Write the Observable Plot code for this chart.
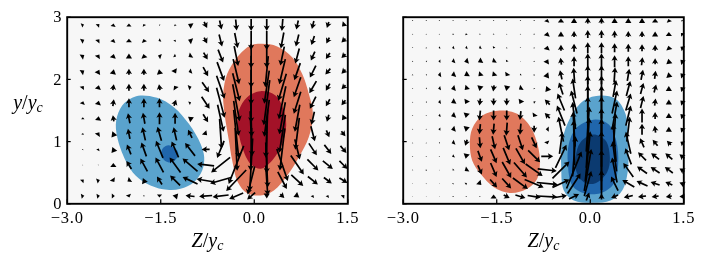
<!DOCTYPE html>
<html><head><meta charset="utf-8">
<style>
html,body{margin:0;padding:0;background:#fff}
#c{position:relative;width:706px;height:265px;overflow:hidden}
#c svg{position:absolute;top:0;max-width:none;filter:blur(.4px)}
#c svg, #c svg text, #c svg g{font-family:"Liberation Serif",serif !important}
</style>
<script src="https://cdn.jsdelivr.net/npm/d3@7"></script>
<script src="https://cdn.jsdelivr.net/npm/@observablehq/plot@0.6"></script>
</head><body><div id="c"></div>
<script>
const leftZ=[-2.75,-2.50,-2.26,-2.01,-1.77,-1.52,-1.27,-1.03,-0.78,-0.54,-0.29,-0.05,0.20,0.45,0.69,0.94,1.18,1.43];
const leftY=[2.875,2.625,2.375,2.125,1.875,1.625,1.375,1.125,0.875,0.625,0.375,0.125];
const leftUV=[
[2.5,1,2,2,.5,3,0,3,-1,2,-1,.5,-.5,1.5,-4,2,3,-6,2,-9,1,-11,0,-12,0,-12,-1,-12,-2,-9,-2,-8,-2,-6,-3,-3],
[3,1.5,2,2.5,1,3,0,3.5,-1,3,-2,-1,1,1.5,-4,1.5,3,-6,3,-12,3,-15,0,-19,0,-19,-3,-16,-3,-12,-3,-9,-3,-6,-4,-4],
[3,2,2,3,1,4,0,5,-1,4,-3,1,2,-1,-3,-2,4,-7,5,-13,4,-20,0,-24,0,-24,-4,-19,-4,-15,-4,-9,-4,-6,-4,-4],
[3,2,2,4,1,5,0,6,0,6,-1,5,2,-4,-3,-1,5,-9,7,-19,6,-25,0,-32,-3,-31,-6,-25,-6,-17,-6,-12,-5,-6,-4,-4],
[2,2.5,1,4,1,6,0,7,0,7,-1,6,-2,3,3,1,7,-10,8,-23,7,-28,0,-35,-5,-33,-8,-27,-7,-20,-7,-12,-4,-7,-4,-4],
[1,3,1,4,1,7,0,9,0,9,0,9,2,6,2,1,8,-12,8,-30,7,-37,0,-40,-6,-45,-7,-33,-7,-22,-6,-12,-4,-7,-4,-5],
[0,2,.5,4,-1,6,-2,10,-2,11,0,12,0,11,-4,3,5,-8,6,-27,5,-35,1,-37,-5,-37,-6,-32,-5,-27,-3,-13,-2,-7,-3,-4],
[.5,1.5,2,3,-2,5,-2,10,-3,13,-4,14,-3,13,-4,8,3,-3,2,-30,5,-48,2,-45,-2,-48,-6,-38,-4,-32,4,-15,3,-7,4,-5],
[.3,1,1,2,-2,5,-4,10,-5,14,-7,17,-7,16,-10,13,-8,0,-7,-17,2,-43,-1,-43,0,-48,-5,-42,5,-20,8,-12,7,-9,6,-7],
[.3,.5,.5,.5,0,4,-5,8,-7,13,-8,15,-11,15,-15,13,-17,2,-19,-15,-15,-38,-3,-53,2,-45,11,-32,13,-19,11,-11,10,-8,8,-8],
[2,2,3,1,2,-3,-3,-2,-2,5,-5,8,-10,10,-15,7,-18,3,-21,-6,-20,-21,-7,-28,2,-30,9,-17,12,-11,10,-8,8,-6,8,-5],
[3,.5,3,.5,3,0,1,-3,-.5,-1,0,-3,-5,1,-9,1,-13,-1,-16,-2,-14,-6,-8,-7,0,-5,4,-4,4,-3,1,2,1,2,2,2]
];
const rightZ=[-2.85,-2.63,-2.42,-2.20,-1.99,-1.77,-1.55,-1.34,-1.12,-0.90,-0.69,-0.47,-0.26,-0.04,0.18,0.39,0.61,0.83,1.04,1.26,1.47];
const rightY=[2.947,2.729,2.510,2.292,2.073,1.855,1.636,1.418,1.200,0.981,0.763,0.544,0.326,0.117];
const rightUV=[
[0,.8,0,.8,0,.8,0,.8,0,.8,0,.8,0,.8,0,.8,0,.8,0,1,1,3,0,4,0,5,0,6,0,6,0,5,0,5,0,5,0,4,-1,3,-1,1],
[0,.8,0,.8,0,.8,-.5,1,-.5,1.5,0,1,0,1,0,.8,0,.8,0,1,1,4,0,5,0,6,0,8,0,8,0,7,0,6,0,6,0,5,0,4,-2,2],
[0,.8,0,1,-1.5,-.5,-2,-.5,-2,-.5,-2,-1,-1,-1.5,0,1,0,.8,0,1,1,4,0,6,0,8,0,11,0,11,0,9,0,8,0,7,0,6,-1,4,-3,2],
[0,.8,-1,.5,-2,0,-3,-1,-4,-1,-4,-2,-3,-2,-1,-1.5,0,.6,0,1,2,4,-1,7,0,10,0,16,0,16,0,12,0,10,1,8,0,6,-1,5,-3,3],
[0,1,-1,0,-3,-.5,-4,-1.5,-4,-2.5,-3,-3,-3,-3,-2,-3,-1,-1,.5,1,2,5,-2,9,-1,14,0,19,0,19,1,15,2,12,2,10,1,8,-1,5,-3,3],
[0,.8,-1,0,-2.5,-.5,-4,-1,-3,-3,-1,-5,-1,-6,-1,-5,-3,-2,-.5,1,-2,5,-4,12,-3,20,0,26,0,26,3,17,4,15,3,11,2,8,0,5,-3,3],
[0,.8,-1,0,-2.5,-.5,-4,-2,-2,-4,-1,-7,0,-7,0,-7,-2,-4,-1.5,1,-5,5,-7,17,-6,23,0,33,0,33,5,23,5,17,3,12,1,7,0,5,-3,3],
[0,.8,0,.8,-2,-.5,-4,-1.5,-1,-5,-1,-10,0,-10,0,-10,-1,-9,-2,-3,-5,5,-8,20,-3,27,0,38,0,38,5,28,5,20,0,14,0,7,0,5,-3,3],
[0,.8,0,.8,-2,0,-4,-1,-1,-5,-1,-10,-1,-11,-1,-13,-1,-11,0,-7,-3,0,-5,25,-2,35,3,45,0,42,2,32,3,25,0,11,-1,7,0,5,-3,3],
[0,.8,0,.8,-1,0,-3,-1,-2,-6,1,-11,3,-13,5,-15,5,-15,5,-11,1,-3,3,22,-1,45,3,50,0,48,-3,38,-5,22,-4,9,-5,6,-4,4,-3,2],
[0,.8,0,.8,0,.8,-2,-1,-1,-5,4,-11,6,-14,7,-17,9,-16,12,-12,12,0,11,23,3,40,5,50,0,50,-4,30,-6,16,-8,8,-8,6,-7,6,-5,4],
[0,.8,.5,1,0,.6,-1,-1,-3,-2,4,-9,6,-14,9,-16,13,-15,17,-12,19,-2,17,17,15,37,7,42,0,40,-5,25,-10,14,-10,7,-9,6,-8,6,-5,3],
[0,.6,.5,.5,0,.5,.5,1,1.5,1,3,-3,7,-8,9,-10,15,-11,19,-8,21,-2,17,8,13,20,7,25,0,27,-7,14,-12,7,-11,5,-9,3,-7,3,-5,2],
[0,.5,0,.5,0,.5,0,1,0,.8,0,.8,0,4,6,-3,10,-3,13,-2,20,-1,12,2,10,5,3,8,0,6,-7,-3,-9,-2,-8,-1,-7,-1,-6,-1,-5,0]
];
// contour outlines, in (Z/yc, y/yc)
const leftBlue1=[[-1.824,1.742],[-1.557,1.704],[-1.29,1.554],[-1.049,1.286],[-.862,.965],[-.803,.75],[-.835,.536],[-.969,.348],[-1.183,.241],[-1.396,.225],[-1.664,.295],[-1.904,.456],[-2.065,.697],[-2.198,1.072],[-2.214,1.34],[-2.118,1.581],[-1.958,1.704]];
const leftBlue2=[[-1.37,.943],[-1.236,.857],[-1.22,.777],[-1.29,.686],[-1.37,.665],[-1.45,.707],[-1.493,.804],[-1.46,.9]];
const leftRed1=[[.127,2.572],[.368,2.53],[.608,2.358],[.768,2.09],[.875,1.768],[.94,1.447],[.875,1.072],[.715,.75],[.528,.456],[.314,.214],[.1,.134],[-.114,.171],[-.263,.348],[-.354,.697],[-.407,1.018],[-.477,1.447],[-.498,1.768],[-.434,2.09],[-.274,2.358],[-.06,2.546]];
const leftRed2=[[.1,1.811],[.341,1.742],[.474,1.5],[.512,1.259],[.448,.965],[.287,.697],[.1,.563],[-.06,.643],[-.194,.911],[-.263,1.233],[-.247,1.5],[-.114,1.715]];
const rightRed1=[[-1.455,1.5],[-1.172,1.447],[-.958,1.233],[-.835,.911],[-.808,.643],[-.851,.402],[-1.012,.241],[-1.279,.172],[-1.546,.268],[-1.76,.482],[-1.894,.697],[-1.931,.965],[-1.894,1.206],[-1.733,1.42]];
const rightBlue1=[[.164,1.742],[.405,1.688],[.565,1.447],[.603,1.018],[.603,.536],[.512,.214],[.325,.054],[.004,.016],[-.263,.054],[-.424,.214],[-.466,.59],[-.45,1.018],[-.317,1.393],[-.103,1.661]];
const rightBlue2=[[.084,1.356],[.298,1.275],[.416,1.018],[.448,.643],[.378,.322],[.164,.171],[-.103,.171],[-.29,.295],[-.359,.643],[-.343,.965],[-.21,1.233]];
const rightBlue3=[[.047,1.115],[.245,1.018],[.314,.75],[.271,.509],[.084,.332],[-.076,.332],[-.21,.482],[-.236,.75],[-.156,.991]];
const xTicks=[-3,-1.5,0,1.5], yTicks=[0,1,2,3];
const BL1="#5aa3cd",BL2="#2066ac",BL3="#0b3a70",RD1="#e0785c",RD2="#a31228";

// quiver-style arrow: shaft plus head, shrinking to a bare head when short
const quiver={draw(ctx,l){
  const w=.85,hl=5.4,hw=3.1,back=4.5;
  if(l<=hl){const h=Math.min(hw,l*.85);
    ctx.moveTo(0,-l);ctx.lineTo(h,0);ctx.lineTo(-h,0);ctx.closePath();return;}
  ctx.moveTo(-w,0);ctx.lineTo(-w,-l+back);ctx.lineTo(-hw,-l+hl);ctx.lineTo(0,-l);
  ctx.lineTo(hw,-l+hl);ctx.lineTo(w,-l+back);ctx.lineTo(w,0);ctx.closePath();
}};
function table(Z,Y,UV){
  const t=[];
  Y.forEach((y,j)=>Z.forEach((z,i)=>{
    const u=UV[j][2*i],v=UV[j][2*i+1];
    t.push({z,y,m:Math.hypot(u,v),a:Math.atan2(u,v)*180/Math.PI});
  }));
  return t;
}
const blob=(pts,fill)=>Plot.line(pts,{x:d=>d[0],y:d=>d[1],curve:"catmull-rom-closed",fill,stroke:"none",clip:"frame"});
function panel({marginLeft,width,left,blobs,Z,Y,UV,labels}){
  const svg=Plot.plot({
    width,height:265,marginLeft,marginRight:width-marginLeft-280.6,marginTop:16.7,marginBottom:61.7,
    style:{fontSize:"16.5px",background:"transparent",color:"#000",overflow:"visible"},
    x:{domain:[-3,1.5]},y:{domain:[0,3]},
    length:{type:"linear",domain:[0,60],range:[0,60]},
    marks:[
      Plot.frame({fill:"#f7f7f7",stroke:null}),
      ...blobs.map(([p,c])=>blob(p,c)),
      Plot.vector(table(Z,Y,UV),{x:"z",y:"y",length:"m",rotate:"a",shape:quiver,fill:"#000",stroke:"none",anchor:"middle"}),
      Plot.axisX({ticks:xTicks,tickSize:-4,tickPadding:11,tickFormat:d3.format(".1f"),label:null,strokeWidth:1.2}),
      Plot.axisY({ticks:yTicks,tickSize:-4,tickPadding:9,tickFormat:labels?d3.format("d"):()=>"",label:null,strokeWidth:1.2}),
      Plot.text(["Z/yc"],{frameAnchor:"bottom",dy:43,fontSize:20}),
      ...(labels?[Plot.text(["y/yc"],{frameAnchor:"left",dx:-54,dy:-8,fontSize:20})]:[]),
      Plot.frame({stroke:"#000",strokeWidth:1.9})
    ]
  });
  svg.style.left=left+"px";
  svg.querySelectorAll("text").forEach(t=>{
    const s=t.textContent.trim();
    if(s==="Z/yc"||s==="y/yc"){
      t.textContent="";
      const add=(txt,a)=>{const e=document.createElementNS("http://www.w3.org/2000/svg","tspan");
        e.textContent=txt;for(const k in a)e.setAttribute(k,a[k]);t.appendChild(e);};
      add(s[0],{"font-style":"italic"});
      add("/",{});
      add("y",{"font-style":"italic"});
      add("c",{"font-style":"italic","font-size":"14","dy":"3"});
    } else t.style.letterSpacing="0.8px";
  });
  return svg;
}
const c=document.getElementById("c");
c.appendChild(panel({marginLeft:66.7,width:350,left:0,Z:leftZ,Y:leftY,UV:leftUV,labels:true,
  blobs:[[leftBlue1,BL1],[leftBlue2,BL2],[leftRed1,RD1],[leftRed2,RD2]]}));
c.appendChild(panel({marginLeft:52.7,width:356,left:350,Z:rightZ,Y:rightY,UV:rightUV,labels:false,
  blobs:[[rightRed1,RD1],[rightBlue1,BL1],[rightBlue2,BL2],[rightBlue3,BL3]]}));
</script></body></html>
